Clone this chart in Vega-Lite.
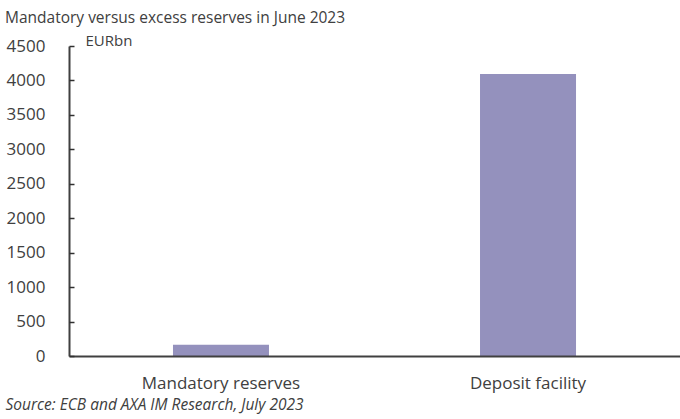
{
  "$schema": "https://vega.github.io/schema/vega-lite/v6.json",
  "autosize": {"type": "none"},
  "width": 611,
  "height": 310,
  "padding": {"left": 69, "top": 46, "right": 0, "bottom": 63},
  "background": "white",
  "title": {
    "text": "Mandatory versus excess reserves in June 2023",
    "anchor": "start",
    "frame": "group",
    "dx": -64,
    "offset": 7,
    "font": "Open Sans",
    "fontSize": 15.5,
    "fontWeight": "normal",
    "color": "#404040"
  },
  "data": {
    "values": [
      {"category": "Mandatory reserves", "value": 162},
      {"category": "Deposit facility", "value": 4095}
    ]
  },
  "encoding": {
    "x": {
      "field": "category",
      "type": "nominal",
      "sort": null,
      "scale": {"paddingInner": 0.01, "paddingOuter": 0},
      "axis": {
        "title": "Source: ECB and AXA IM Research, July 2023",
        "titleFont": "Open Sans",
        "titleFontStyle": "italic",
        "titleFontWeight": "normal",
        "titleFontSize": 15.5,
        "titleColor": "#404040",
        "titleAnchor": "start",
        "titleAlign": "left",
        "titleBaseline": "alphabetic",
        "titleX": -64,
        "titleY": 53,
        "labelAngle": 0,
        "labelFont": "Open Sans",
        "labelFontSize": 17,
        "labelColor": "#404040",
        "labelBaseline": "alphabetic",
        "labelPadding": 32,
        "ticks": false,
        "domainColor": "#404040",
        "domainWidth": 2,
        "zindex": 1
      }
    }
  },
  "layer": [
    {
      "mark": {"type": "bar", "color": "#9491bd", "size": 96},
      "encoding": {
        "y": {
          "field": "value",
          "type": "quantitative",
          "scale": {"domain": [0, 4500], "nice": false},
          "axis": {
            "values": [0, 500, 1000, 1500, 2000, 2500, 3000, 3500, 4000, 4500],
            "format": "d",
            "title": "EURbn",
            "titleAngle": 0,
            "titleAlign": "left",
            "titleBaseline": "alphabetic",
            "titleX": 16,
            "titleY": -1,
            "titleFont": "Open Sans",
            "titleFontSize": 15,
            "titleFontWeight": "normal",
            "titleColor": "#404040",
            "labelFont": "Open Sans",
            "labelFontSize": 17,
            "labelColor": "#404040",
            "labelPadding": 24,
            "ticks": false,
            "domainColor": "#404040",
            "domainWidth": 2,
            "grid": false,
            "zindex": 1
          }
        }
      }
    },
    {
      "mark": {"type": "bar", "color": "#9491bd", "size": 96, "opacity": 0},
      "encoding": {
        "y": {
          "field": "value",
          "type": "quantitative",
          "scale": {"domain": [0, 4500], "nice": false},
          "axis": {
            "orient": "right",
            "offset": -611,
            "values": [0, 500, 1000, 1500, 2000, 2500, 3000, 3500, 4000, 4500],
            "title": null,
            "labels": false,
            "domain": false,
            "tickSize": 5,
            "tickColor": "#303030",
            "tickWidth": 1.5,
            "grid": false,
            "zindex": 1
          }
        }
      }
    }
  ],
  "resolve": {"axis": {"y": "independent"}},
  "config": {"view": {"stroke": null}}
}
